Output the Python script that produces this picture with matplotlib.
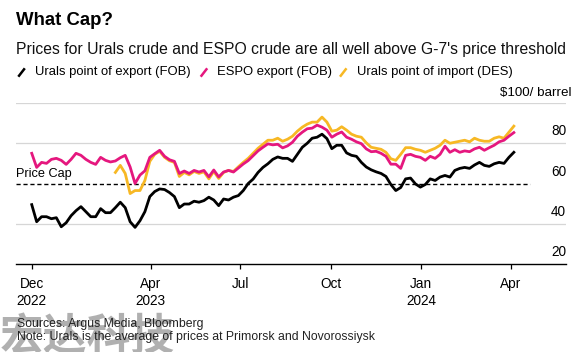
import numpy as np
import pandas as pd
import matplotlib
matplotlib.use("Agg")
import matplotlib.pyplot as plt
import matplotlib.transforms as mtransforms
from matplotlib.lines import Line2D

plt.rcParams["font.family"] = ["Liberation Sans", "DejaVu Sans"]

# prices, one value every 5 days from 1 Dec 2022
dates = pd.date_range("2022-12-01", periods=99, freq="5D")

urals_fob = [
    49.5, 41.0, 43.5, 43.5, 42.5, 43.0, 38.5, 40.5, 44.0, 46.5,
    48.5, 46.0, 43.5, 43.5, 47.5, 45.5, 45.5, 48.0, 50.7, 48.0,
    41.0, 38.2, 41.5, 46.0, 53.5, 56.0, 57.3, 57.0, 55.5, 53.5,
    48.0, 49.8, 49.8, 51.2, 50.7, 51.5, 53.2, 51.8, 49.0, 52.3,
    51.8, 53.2, 54.0, 56.5, 60.0, 62.2, 65.5, 68.0, 69.8, 72.0,
    73.2, 72.5, 72.5, 71.0, 74.5, 78.0, 80.0, 82.5, 83.0, 84.5,
    82.3, 77.3, 79.0, 79.0, 75.2, 74.0, 73.5, 70.5, 68.2, 66.8,
    65.8, 65.0, 63.5, 59.5, 56.5, 58.0, 62.3, 62.7, 59.8, 58.2,
    59.5, 62.3, 61.5, 63.2, 64.0, 63.2, 66.5, 67.5, 68.0, 67.5,
    69.2, 70.5, 69.0, 68.5, 69.8, 70.5, 70.0, 73.0, 75.5,
]

espo_fob = [
    75.0, 68.0, 70.5, 70.0, 72.0, 72.5, 71.5, 69.5, 72.0, 75.0,
    74.0, 72.0, 70.5, 69.5, 73.0, 71.5, 70.7, 71.2, 72.8, 74.0,
    68.2, 60.0, 64.2, 66.3, 73.0, 74.8, 76.5, 73.5, 71.8, 71.0,
    65.0, 66.2, 65.0, 66.5, 65.7, 66.5, 63.3, 66.7, 63.3, 65.7,
    66.5, 65.7, 67.7, 69.7, 71.4, 73.8, 76.2, 78.0, 79.7, 79.2,
    79.5, 77.7, 78.7, 80.5, 83.5, 85.5, 87.2, 87.5, 89.0, 88.0,
    86.5, 83.0, 84.5, 85.6, 83.0, 82.0, 80.7, 79.8, 77.2, 75.8,
    76.0, 75.0, 73.5, 69.6, 69.6, 67.5, 74.0, 74.5, 73.5, 73.0,
    71.5, 73.5, 72.5, 74.5, 78.5, 75.5, 76.8, 75.5, 76.2, 75.8,
    77.2, 78.0, 76.5, 77.8, 79.0, 80.7, 81.5, 83.5, 85.3,
]

urals_des = [np.nan] * 17 + [
    65.5, 69.0, 65.0,
    55.0, 56.5, 56.5, 61.5, 71.0, 74.5, 76.0, 73.0, 71.3, 70.5,
    63.5, 65.5, 64.3, 66.0, 65.0, 65.8, 62.3, 66.0, 62.5, 65.5,
    66.5, 66.0, 68.3, 70.5, 72.5, 75.0, 77.5, 79.5, 81.5, 81.5,
    82.5, 81.0, 82.0, 83.5, 86.0, 88.0, 89.5, 90.5, 90.5, 93.0,
    90.5, 86.0, 86.5, 88.2, 86.5, 84.5, 83.5, 83.0, 80.2, 78.0,
    77.5, 77.0, 75.5, 72.3, 71.5, 74.5, 77.8, 77.8, 77.0, 76.5,
    75.5, 76.5, 77.5, 79.0, 81.5, 80.0, 80.5, 81.0, 81.5, 80.7,
    82.5, 81.5, 81.0, 81.0, 82.5, 83.2, 82.5, 85.5, 88.5,
]

PRICE_CAP = 60
y_ticks = [20, 40, 60, 80]
grid_levels = [40, 80, 100]
x_ticks = pd.to_datetime(["2022-12-01", "2023-04-01", "2023-07-01",
                          "2023-10-01", "2024-01-01", "2024-04-01"])
x_labels = ["Dec\n2022", "Apr\n2023", "Jul", "Oct", "Jan\n2024", "Apr"]

series_names = ["Urals point of export (FOB)", "ESPO export (FOB)",
                "Urals point of import (DES)"]
BLACK = "#000000"
PINK = "#e5177e"
YELLOW = "#f7b824"

W, H = 587, 352
fig = plt.figure(figsize=(W / 100, H / 100), dpi=100)


def fx(px):
    return px / W


def fy(py):
    return 1 - py / H


ax = fig.add_axes([fx(16), fy(264), fx(550), 161 / H])
ax.set_xlim(pd.Timestamp("2022-11-15"), pd.Timestamp("2024-05-27"))
ax.set_ylim(20, 100)

for g in grid_levels:
    ax.axhline(g, color="#d6d6d6", lw=0.9, zorder=0)

ax.hlines(PRICE_CAP, pd.Timestamp("2022-11-15"), pd.Timestamp("2024-04-20"),
          colors="black", linestyles=(0, (3, 2)), lw=1.0, zorder=1)

ax.plot(dates, urals_des, color=YELLOW, lw=2.0, zorder=2, solid_joinstyle="round")
ax.plot(dates, espo_fob, color=PINK, lw=2.0, zorder=3, solid_joinstyle="round")
ax.plot(dates, urals_fob, color=BLACK, lw=2.0, zorder=4, solid_joinstyle="round")

for s in ["top", "left", "right"]:
    ax.spines[s].set_visible(False)
ax.spines["bottom"].set_color("black")
ax.spines["bottom"].set_linewidth(1.0)

ax.set_yticks([])
ax.set_xticks(x_ticks)
ax.set_xticklabels(x_labels, fontsize=9.8, linespacing=1.25)
ax.tick_params(axis="x", direction="out", length=3.5, width=0.9, pad=6, colors="black")

# y labels sit above their gridlines on the right
trans = mtransforms.blended_transform_factory(ax.transAxes, ax.transData)
lbl_trans = mtransforms.offset_copy(trans, fig=fig, y=8, units="dots")
for v in y_ticks:
    ax.text(1.0, v, str(v), transform=lbl_trans, ha="right", va="baseline", fontsize=9.8)
unit_trans = mtransforms.offset_copy(trans, fig=fig, x=5, y=7, units="dots")
ax.text(1.0, 100, "$100/ barrel", transform=unit_trans, ha="right", va="baseline", fontsize=9.6)

cap_trans = mtransforms.offset_copy(trans, fig=fig, y=6, units="dots")
ax.text(0.0, PRICE_CAP, "Price Cap", transform=cap_trans, ha="left", va="baseline", fontsize=9.2)

# header
fig.text(fx(16), fy(25), "What Cap?", fontsize=13.4, fontweight="bold", va="baseline")
fig.text(fx(16), fy(54), "Prices for Urals crude and ESPO crude are all well above G-7's price threshold",
         fontsize=11.3, va="baseline", color="#111111")

# legend with slanted swatches
legend_items = [(18.3, 35, BLACK), (200.7, 216.7, PINK), (340, 356.7, YELLOW)]
for (sx, tx, col), name in zip(legend_items, series_names):
    fig.add_artist(Line2D([fx(sx), fx(sx + 6.5)], [fy(76.7), fy(68.3)],
                          color=col, lw=1.8, solid_capstyle="butt"))
    fig.text(fx(tx), fy(72.5), name, fontsize=9.4, va="center")

# footer, with the watermark behind the source notes
fig.text(0.0, fy(350), "宏达科技", family=["Noto Sans CJK SC"], fontweight="heavy",
         fontsize=31.5, color="#a3a3a3", alpha=0.85, va="baseline", zorder=0)
fig.text(fx(17), fy(327), "Sources: Argus Media, Bloomberg", fontsize=8.85,
         va="baseline", color="#222222", zorder=5)
fig.text(fx(17), fy(340), "Note: Urals is the average of prices at Primorsk and Novorossiysk",
         fontsize=8.85, va="baseline", color="#222222", zorder=5)

fig.savefig("out.png", dpi=100)
